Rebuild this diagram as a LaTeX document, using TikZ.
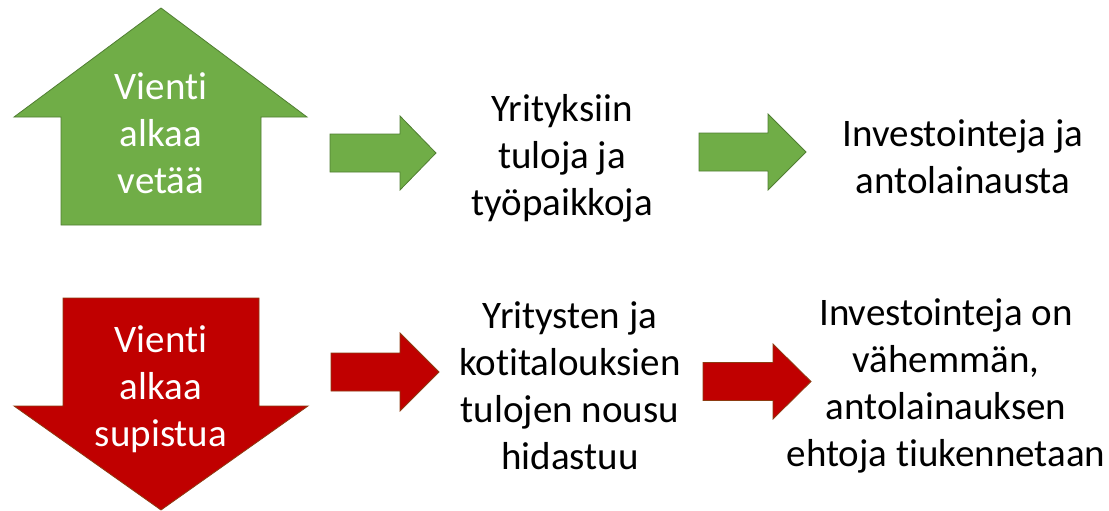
\documentclass[tikz,border=0pt]{standalone}
\usepackage{fontspec}
\setmainfont[Ligatures=NoCommon]{Carlito}

\definecolor{upgreen}{HTML}{70AD47}
\definecolor{upgreenline}{HTML}{507E32}
\definecolor{downred}{HTML}{C00000}
\definecolor{downredline}{HTML}{8C3B12}

\begin{document}
\begin{tikzpicture}[x=1pt, y=-1pt,
        growth/.style={
            % The filling
            fill=upgreen,
            % The border
            draw=upgreenline,
            line width=.8pt
        },
        decline/.style={
            % The filling
            fill=downred,
            % The border
            draw=downredline,
            line width=.8pt
        },
        txt/.style={
            % Font
            font=\fontsize{39}{47}\selectfont,
            align=center,
            inner sep=0pt
        }]

        \useasboundingbox (0,0) rectangle (1109,511);

        % The big arrows
        \draw[growth] (161,8) -- (307,117) -- (261,117) -- (261,225) -- (61,225) -- (61,117) -- (14,117) -- cycle;
        \draw[decline] (63,298) -- (259,298) -- (259,406) -- (308,406) -- (161,510) -- (14,406) -- (63,406) -- cycle;

        % The small arrows
        \foreach \xa/\xb/\xc/\ym/\hh/\look in {330/400/436/153/37/growth, 699/768/806/152/38/growth, 331/400/439/372/39/decline, 703/773/811/381.5/37.5/decline}
        {
            \draw[\look] (\xa,\ym-19) -- (\xb,\ym-19) -- (\xb,\ym-\hh) -- (\xc,\ym) -- (\xb,\ym+\hh) -- (\xb,\ym+19) -- (\xa,\ym+19) -- cycle;
        }

        \node [txt, text=white] (export up) at (161,133) {Vienti\\alkaa\\vetää};
        \node [txt] (income up) at (562,158) {Yrityksiin\\tuloja ja\\työpaikkoja};
        \node [txt] (invest up) at (963,157) {Investointeja ja\\antolainausta};

        \node [txt, text=white] (export down) at (161,389) {Vienti\\alkaa\\supistua};
        \node [txt] (income down) at (570,386) {Yritysten ja\\kotitalouksien\\tulojen nousu\\hidastuu};
        \node [txt] (invest down) at (946,386) {Investointeja on\\vähemmän,\\antolainauksen\\ehtoja tiukennetaan};

    \end{tikzpicture}
\end{document}
